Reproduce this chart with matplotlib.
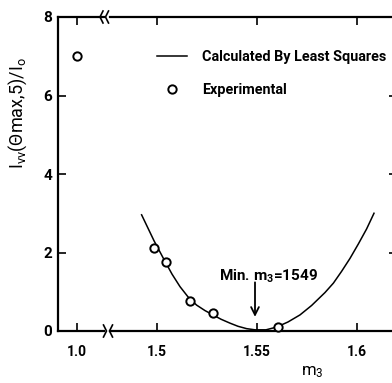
import matplotlib
matplotlib.use("Agg")
import matplotlib.pyplot as plt
from matplotlib.lines import Line2D

# ---- data ----
exp_x_left = [1.0]
exp_y_left = [7.0]
exp_x = [1.4985, 1.5045, 1.5165, 1.528, 1.5605]
exp_y = [2.12, 1.75, 0.77, 0.45, 0.09]

fit_x = [1.4923, 1.4985, 1.5032, 1.5075, 1.5115, 1.5155, 1.5198, 1.524, 1.528, 1.532,
         1.5365, 1.5405, 1.5448, 1.549, 1.5545, 1.5598, 1.5655, 1.5715, 1.5773, 1.584,
         1.5882, 1.5923, 1.5965, 1.6007, 1.6048, 1.6085]
fit_y = [2.96, 2.30, 1.85, 1.45, 1.13, 0.87, 0.66, 0.52, 0.41, 0.30,
         0.20, 0.12, 0.06, 0.03, 0.03, 0.10, 0.23, 0.41, 0.65, 0.98,
         1.22, 1.52, 1.85, 2.22, 2.60, 3.0]

yticks = [0, 2, 4, 6, 8]
xticks_left = [1.0]
xtick_left_labels = ["1.0"]
xticks_right = [1.5, 1.55, 1.6]
xtick_right_labels = ["1.5", "1.55", "1.6"]

min_label = "Min. $\\mathregular{m_3}$=1549"
min_x = 1.549

FONT = ["Roboto", "DejaVu Sans"]
plt.rcParams['font.family'] = FONT
plt.rcParams['mathtext.fontset'] = 'custom'
plt.rcParams['mathtext.rm'] = 'Roboto'
plt.rcParams['mathtext.it'] = 'Roboto'
plt.rcParams['mathtext.bf'] = 'Roboto:bold'

W, H = 392, 383
fig = plt.figure(figsize=(W / 100, H / 100), dpi=100)

def fx(px):
    return px / W

def fy(py):
    return 1 - py / H

bottom = fy(331)
height = (331 - 17) / H
axL = fig.add_axes([fx(58), bottom, (104 - 58) / W, height])
axR = fig.add_axes([fx(110), bottom, (397 - 110) / W, height], sharey=axL)

for ax in (axL, axR):
    for s in ax.spines.values():
        s.set_linewidth(1.6)
    ax.tick_params(direction='in', length=6, width=1.2, top=True, right=True,
                   labelsize=10)
    ax.set_ylim(0, 8)
    ax.set_yticks(yticks)

axL.spines['right'].set_visible(False)
axR.spines['left'].set_visible(False)
axL.tick_params(right=False)
axR.tick_params(left=False, labelleft=False)

axL.set_xlim(0.9905, 1.0135)
axR.set_xlim(1.4765, 1.62)
axL.set_xticks(xticks_left)
axL.set_xticklabels(xtick_left_labels, fontweight='bold')
axR.set_xticks(xticks_right)
axR.set_xticklabels(xtick_right_labels, fontweight='bold')
axL.set_yticklabels([str(v) for v in yticks], fontweight='bold')
for ax in (axL, axR):
    ax.tick_params(axis='x', pad=10, labelsize=10)
axL.tick_params(axis='y', pad=4, labelsize=11)

mk = dict(marker='o', ms=6, mfc='white', mec='black', mew=1.4, ls='none')
axL.plot(exp_x_left, exp_y_left, clip_on=False, **mk)
axR.plot(exp_x, exp_y, zorder=3, clip_on=False, **mk)
axR.plot(fit_x, fit_y, color='black', lw=1.1, zorder=2)

axR.annotate("", xy=(min_x, 0.36), xytext=(min_x, 1.24),
             arrowprops=dict(arrowstyle='->', lw=1.3, color='black',
                             mutation_scale=14, shrinkA=0, shrinkB=0))
fig.text(fx(219), fy(276), min_label, ha='left', va='center',
         fontsize=11, fontweight='bold')

handles = [Line2D([], [], color='black', lw=1.1),
           Line2D([], [], **mk)]
fig.legend(handles, ["Calculated By Least Squares", "Experimental"],
           loc='upper left', bbox_to_anchor=(fx(157), fy(50)),
           bbox_transform=fig.transFigure, frameon=False, borderpad=0,
           borderaxespad=0, handlelength=2.1, handletextpad=1.0,
           labelspacing=1.3, prop=dict(size=10.4, weight='bold'))

fig.text(fx(18), fy(113), "$\\mathregular{I_{vv}(\\Theta max{,}5)/I_o}$",
         rotation=90, ha='center', va='center', fontsize=13)
fig.text(fx(312), fy(372), "$\\mathregular{m_3}$", ha='center', va='center',
         fontsize=12)

# axis break marks
def squiggle(x0, y0, sign):
    xs = [x0 - 1.5 * sign, x0 + 1.5 * sign, x0 - 1.5 * sign]
    ys = [y0 - 6, y0, y0 + 6]
    fig.add_artist(Line2D([fx(v) for v in xs], [fy(v) for v in ys],
                          color='black', lw=1.2))

for (x0, y0, s) in [(105, 331, 1), (111, 331, -1), (101.5, 17, -1), (107, 17, -1)]:
    squiggle(x0, y0, s)

fig.savefig("out.png", dpi=100)
